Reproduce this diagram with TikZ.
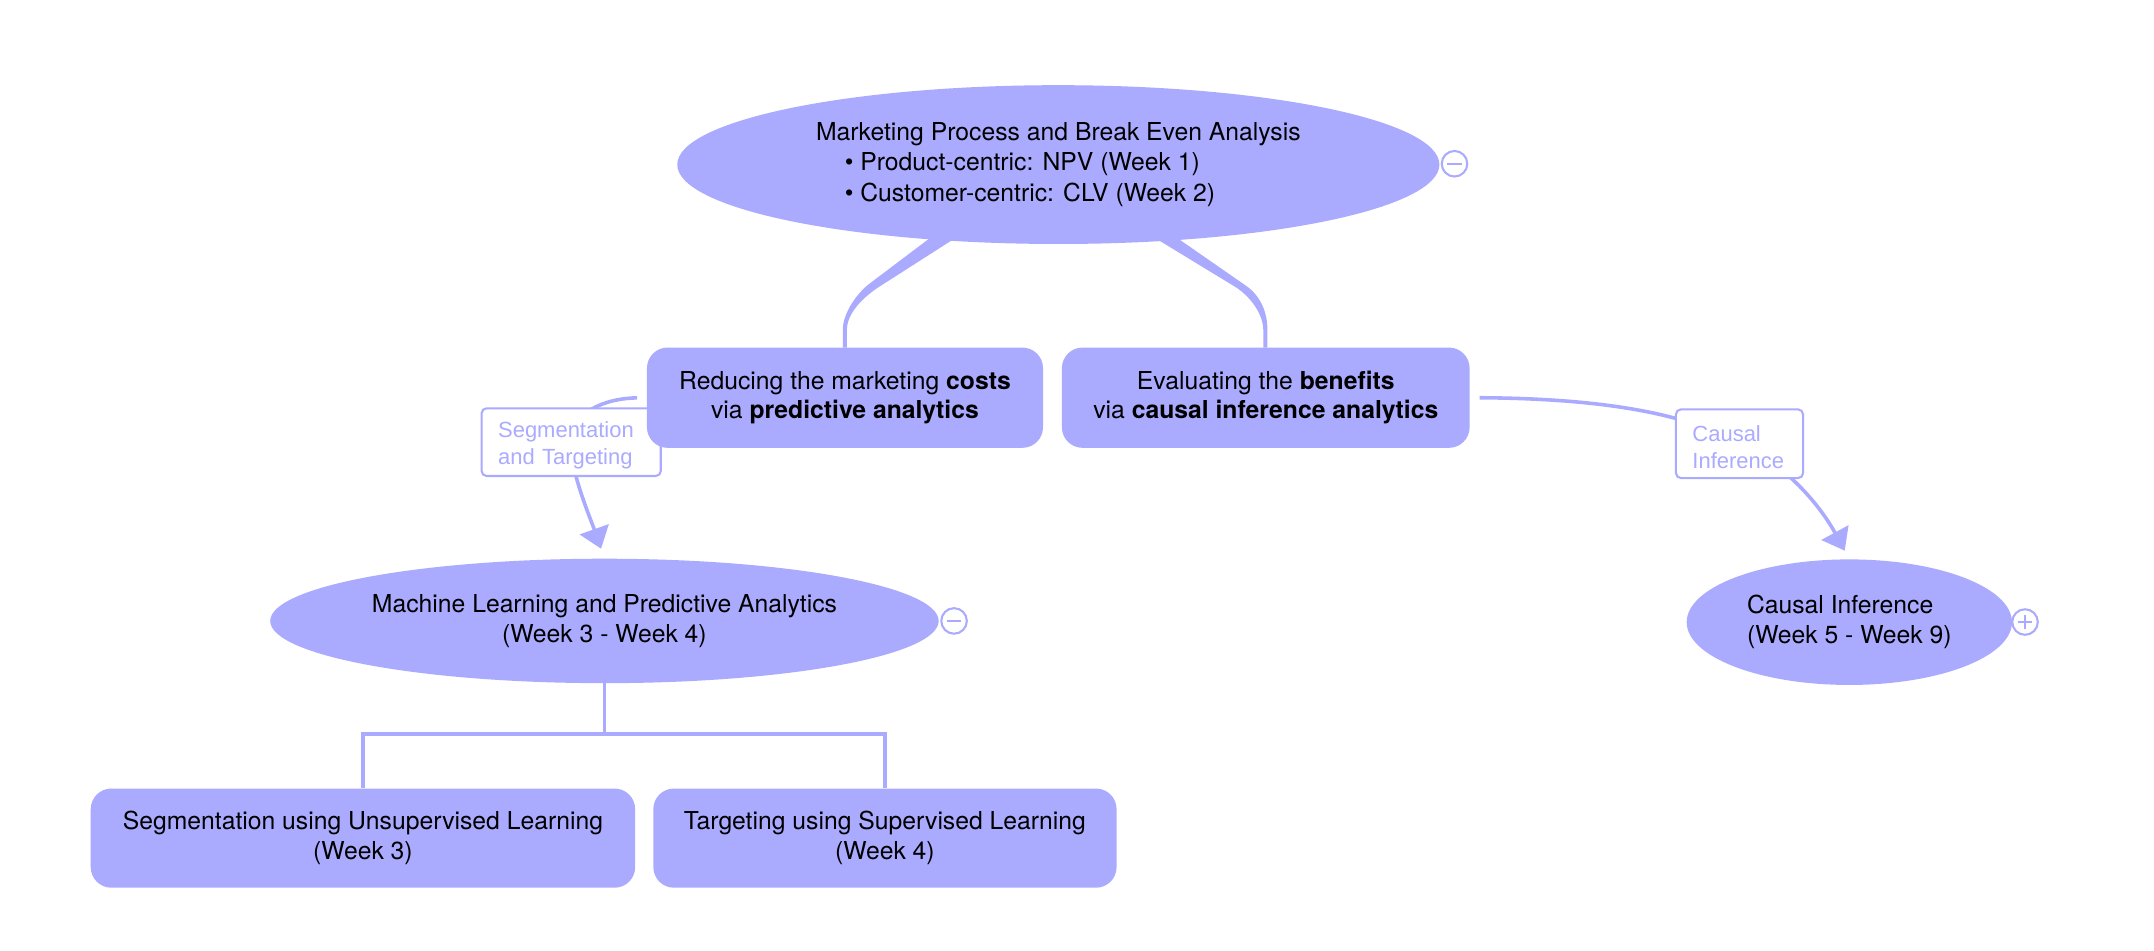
\documentclass[tikz,border=0pt]{standalone}
\usepackage{fontspec}
\setmainfont{TeX Gyre Heros}
\newfontfamily\labfont{Liberation Sans}
\usetikzlibrary{shapes.geometric,arrows.meta,calc}
\definecolor{lav}{RGB}{170,170,255}
\pgfdeclarelayer{back}
\pgfdeclarelayer{mid}
\pgfsetlayers{back,mid,main}
\begin{document}
\begin{tikzpicture}[x=1pt,y=-1pt,
  bubble/.style={ellipse, fill=lav, inner sep=0pt, text=black, font=\fontsize{18}{22}\selectfont,
    execute at begin node={\rule{0pt}{18pt}}},
  rbox/.style={rectangle, rounded corners=15pt, fill=lav, inner sep=0pt, align=center, text=black,
    font=\fontsize{18}{21.5}\selectfont, execute at begin node={\rule{0pt}{17.5pt}}},
  lab/.style={rectangle, rounded corners=3.6pt, draw=lav, line width=1.5pt, fill=white, text=lav, align=left,
    inner xsep=12pt, inner ysep=0pt, font=\labfont\fontsize{16}{19.5}\selectfont,
    execute at begin node={\rule{0pt}{16.5pt}}},
  conn/.style={draw=lav, line width=2.6pt},
  arrowend/.style={-{Triangle[length=15pt,width=22pt]}},
  togglebtn/.style={circle, draw=lav, fill=white, line width=1.5pt, minimum size=18.6pt, inner sep=0pt},
  tgl/.style={draw=lav, line width=1.5pt},
]
\useasboundingbox (0,0) rectangle (1568,691.55);

% main nodes
\node[bubble, minimum width=554.8pt, minimum height=115.6pt, align=left] (top) at (770.4,119.8)
  {Marketing Process and Break Even Analysis\\\hspace*{21pt}• Product-centric: NPV (Week 1)\\\hspace*{21pt}• Customer-centric: CLV (Week 2)};
\node[rbox, minimum width=288.3pt, minimum height=73pt] (b1) at (615.1,289.5)
  {Reducing the marketing \textbf{costs}\\via \textbf{predictive analytics}};
\node[rbox, minimum width=296.8pt, minimum height=73pt] (b2) at (921.4,289.5)
  {Evaluating the \textbf{benefits}\\via \textbf{causal inference analytics}};
\node[bubble, minimum width=486.6pt, minimum height=90.6pt, align=center] (ml) at (440,452)
  {Machine Learning and Predictive Analytics\\(Week 3 - Week 4)};
\node[bubble, minimum width=236.8pt, minimum height=91.4pt, align=left] (ci) at (1346.2,452.9)
  {Causal Inference\\(Week 5 - Week 9)};
\node[rbox, minimum width=396.3pt, minimum height=72.2pt] (b3) at (264.2,610.1)
  {Segmentation using Unsupervised Learning\\(Week 3)};
\node[rbox, minimum width=337.2pt, minimum height=72.2pt] (b4) at (644.2,610.1)
  {Targeting using Supervised Learning\\(Week 4)};

% toggles
\node[togglebtn] (t1) at (1058.8,119.2) {};
\draw[tgl] ([xshift=-5.2pt]t1.center) -- ([xshift=5.2pt]t1.center);
\node[togglebtn] (t2) at (694.5,452) {};
\draw[tgl] ([xshift=-5.2pt]t2.center) -- ([xshift=5.2pt]t2.center);
\node[togglebtn] (t3) at (1474.1,452.8) {};
\draw[tgl] ([xshift=-5.2pt]t3.center) -- ([xshift=5.2pt]t3.center);
\draw[tgl] ([yshift=-5.2pt]t3.center) -- ([yshift=5.2pt]t3.center);

% labels
\begin{pgfonlayer}{mid}
\node[lab, minimum height=49.3pt, text width=106.4pt] (l1) at (415.8,321.85) {Segmentation\\and Targeting};
\node[lab, minimum height=50pt, text width=68.5pt] (l2) at (1266.25,323) {Causal\\Inference};
\end{pgfonlayer}

% connectors
\begin{pgfonlayer}{back}
\fill[lav] (680,171) -- (633.3,206.2) .. controls (623.7,213.4) and (613.5,228) .. (613.5,240.2)
  -- (613.5,253) -- (616.5,253) -- (616.5,240.2) .. controls (616.5,228) and (628,217) .. (638.2,209.9)
  -- (699,171) -- cycle;
\fill[lav] (837.1,171) -- (899,208.7) .. controls (909.2,215) and (919.6,228) .. (919.6,240.2)
  -- (919.6,253) -- (922.6,253) -- (922.6,240.2) .. controls (922.6,225) and (916,214) .. (906.3,207.5)
  -- (853.7,171) -- cycle;
\draw[conn, arrowend, shorten <=7pt, shorten >=7.5pt] (b1.west) .. controls (440,290) and (416,300) .. (l1.center)
  .. controls (414,340) and (430,378) .. (ml.north);
\draw[conn, arrowend, shorten <=7pt, shorten >=7pt] (b2.east) .. controls (1170,290) and (1230,302) .. (l2.center)
  .. controls (1300,338) and (1325,368) .. (ci.north);
\draw[conn] (ml.south) -- ++(0,37) coordinate (j);
\draw[conn] (b3.north) |- (j) -| (b4.north);
\end{pgfonlayer}
\end{tikzpicture}
\end{document}
